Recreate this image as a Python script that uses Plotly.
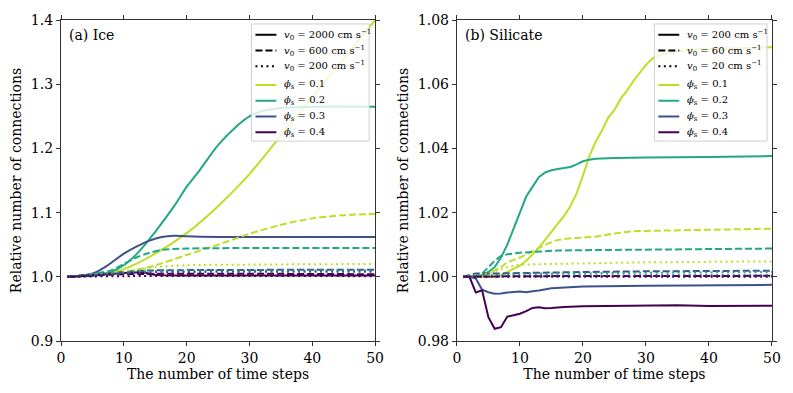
import plotly.graph_objects as go
from plotly.subplots import make_subplots

# --- data ------------------------------------------------------------------
phis = ["0.1", "0.2", "0.3", "0.4"]
colors = ["#bddf26", "#22a884", "#3b528b", "#440154"]

# (a) Ice, one list per phi, for the three launch speeds
ice_fast_x = [[1, 5, 10, 15, 20, 25, 30, 35, 40, 45, 50],
              [1, 5, 8, 10, 12, 15, 18, 20, 22, 25, 28, 30, 32, 35, 40, 50],
              [1, 5, 7, 10, 12, 14, 16, 18, 20, 25, 50],
              [1, 5, 10, 13, 15, 20, 50]]
ice_fast_y = [[1.0, 1.002, 1.012, 1.036, 1.068, 1.11, 1.16, 1.22, 1.28, 1.34, 1.40],
              [1.0, 1.002, 1.008, 1.018, 1.035, 1.07, 1.11, 1.14, 1.165, 1.205,
               1.235, 1.25, 1.258, 1.263, 1.265, 1.265],
              [1.0, 1.005, 1.015, 1.036, 1.047, 1.056, 1.062, 1.064, 1.063, 1.062, 1.062],
              [1.0, 1.002, 1.006, 1.007, 1.003, 1.002, 1.002]]
ice_mid_x = [[1, 10, 15, 20, 25, 30, 35, 40, 45, 50],
             [1, 8, 10, 12, 14, 16, 20, 50],
             [1, 8, 12, 15, 50],
             [1, 10, 50]]
ice_mid_y = [[1.0, 1.007, 1.018, 1.034, 1.05, 1.067, 1.081, 1.091, 1.096, 1.098],
             [1.0, 1.01, 1.02, 1.03, 1.037, 1.042, 1.044, 1.045],
             [1.0, 1.006, 1.009, 1.010, 1.011],
             [1.0, 1.004, 1.004]]
ice_slow_x = [[1, 10, 15, 20, 30, 50],
              [1, 10, 15, 50],
              [1, 10, 15, 50],
              [1, 10, 50]]
ice_slow_y = [[1.0, 1.008, 1.015, 1.018, 1.019, 1.02],
              [1.0, 1.007, 1.009, 1.01],
              [1.0, 1.005, 1.007, 1.008],
              [1.0, 1.001, 1.001]]

# (b) Silicate
sil_fast_x = [[1, 2, 4, 6, 7, 8, 9, 10, 11, 12, 13, 14, 15, 16, 17, 18, 19, 20, 21, 22,
               23, 24, 25, 26, 27, 28, 29, 30, 31, 32, 33, 34, 36, 38, 40, 45, 50],
              [1, 4, 5, 6, 7, 8, 9, 10, 11, 12, 13, 14, 15, 16, 17, 18, 19, 20, 21, 22,
               25, 30, 40, 50],
              [1, 2, 3, 4, 5, 6, 7, 8, 10, 11, 12, 13, 15, 20, 30, 40, 50],
              [1, 2, 3, 4, 5, 6, 7, 8, 9, 10, 11, 12, 13, 14, 15, 17, 20, 30, 35, 40, 45, 50]]
sil_fast_y = [[1.0, 1.0, 1.0, 1.0, 1.0005, 1.0015, 1.0025, 1.0035, 1.005, 1.007, 1.009,
               1.0115, 1.014, 1.0165, 1.019, 1.022, 1.026, 1.0315, 1.0375, 1.042, 1.0455,
               1.0495, 1.052, 1.0555, 1.058, 1.061, 1.0635, 1.066, 1.068, 1.069, 1.0695,
               1.07, 1.0705, 1.071, 1.071, 1.0712, 1.0715],
              [1.0, 1.0005, 1.0015, 1.003, 1.006, 1.010, 1.015, 1.020, 1.025, 1.028,
               1.031, 1.0325, 1.0332, 1.0336, 1.0338, 1.0342, 1.035, 1.036, 1.0365,
               1.0368, 1.037, 1.0372, 1.0373, 1.0376],
              [1.0, 1.0, 0.9995, 0.996, 0.9952, 0.9947, 0.9948, 0.9951, 0.9954, 0.9952,
               0.9955, 0.9957, 0.9964, 0.997, 0.9972, 0.9973, 0.9975],
              [1.0, 1.0, 0.9951, 0.9958, 0.9874, 0.9838, 0.9843, 0.9876, 0.988, 0.9885,
               0.9893, 0.9903, 0.9905, 0.9902, 0.9903, 0.9906, 0.9908, 0.991, 0.9911,
               0.9909, 0.9909, 0.991]]
sil_mid_x = [[1, 4, 5, 6, 7, 8, 10, 12, 14, 16, 18, 20, 22, 25, 28, 30, 35, 40, 45, 50],
             [1, 3, 4, 5, 6, 7, 8, 10, 12, 14, 16, 20, 30, 40, 50],
             [1, 3, 5, 10, 20, 30, 50],
             [1, 10, 50]]
sil_mid_y = [[1.0, 1.0, 1.001, 1.002, 1.003, 1.0045, 1.006, 1.008, 1.010, 1.0115, 1.012,
              1.0122, 1.0125, 1.0135, 1.0142, 1.0143, 1.0145, 1.0147, 1.0149, 1.015],
             [1.0, 1.0, 1.001, 1.003, 1.005, 1.0065, 1.007, 1.0075, 1.0078, 1.008,
              1.0082, 1.0083, 1.0085, 1.0087, 1.0088],
             [1.0, 1.001, 1.001, 1.0012, 1.0015, 1.0017, 1.0019],
             [1.0, 1.0002, 1.0003]]
sil_slow_x = [[1, 5, 8, 10, 15, 20, 30, 50],
              [1, 10, 50],
              [1, 10, 50],
              [1, 50]]
sil_slow_y = [[1.0, 1.001, 1.003, 1.0038, 1.004, 1.0042, 1.0045, 1.0048],
              [1.0, 1.001, 1.0015],
              [1.0, 1.0004, 1.0005],
              [1.0, 1.0]]

ice_v0 = ["2000", "600", "200"]
sil_v0 = ["200", "60", "20"]
dashes = ["solid", "7px,3px", "2px,3.5px"]

FONT = "DejaVu Serif"
W, H = 793, 393
ML, MR, MT, MB = 61, 19, 15, 52


def px(x, y):
    # pixel position -> paper coordinates
    return (x - ML) / (W - ML - MR), (H - MB - y) / (H - MT - MB)


fig = make_subplots(rows=1, cols=2)


def add_panel(col, sets, shape):
    for dash, (xs, ys) in zip(dashes, sets):
        for c, x, y in zip(colors, xs, ys):
            fig.add_trace(go.Scatter(x=x, y=y, mode="lines", showlegend=False,
                                     line=dict(color=c, width=2, dash=dash,
                                               shape=shape, smoothing=0.8)),
                          row=1, col=col)


add_panel(1, [(ice_fast_x, ice_fast_y), (ice_mid_x, ice_mid_y), (ice_slow_x, ice_slow_y)],
          "spline")
add_panel(2, [(sil_fast_x, sil_fast_y), (sil_mid_x, sil_mid_y), (sil_slow_x, sil_slow_y)],
          "linear")

# hand-built legends (matplotlib-like compact rows)
shapes, annotations = [], []
row_y = [30, 46, 62, 81, 97, 113, 129]


def add_legend(box, line_x0, line_x1, v0s):
    x0, y0 = px(box[0], box[1])
    x1, y1 = px(box[2], box[3])
    shapes.append(dict(type="rect", xref="paper", yref="paper", x0=x0, y0=y0, x1=x1, y1=y1,
                       fillcolor="rgba(255,255,255,0.8)", line=dict(color="#d0d0d0", width=1)))
    labels = [f"<i>v</i><sub>0</sub> = {v} cm s<sup>−1</sup>" for v in v0s] + \
             [f"<i>ϕ</i><sub>s</sub> = {p}" for p in phis]
    styles = [("black", d) for d in dashes] + [(c, "solid") for c in colors]
    for yy, lab, (c, d) in zip(row_y, labels, styles):
        a0, b = px(line_x0, yy)
        a1, _ = px(line_x1, yy)
        shapes.append(dict(type="line", xref="paper", yref="paper", x0=a0, x1=a1, y0=b, y1=b,
                           line=dict(color=c, width=2, dash=d)))
        t, _ = px(line_x1 + 6, yy)
        annotations.append(dict(text=lab, x=t, y=b, xref="paper", yref="paper",
                                xanchor="left", yanchor="middle", showarrow=False,
                                font=dict(family=FONT, size=10, color="black")))


add_legend((252, 19, 370, 138), 256, 277, ice_v0)
add_legend((656, 19, 769, 138), 660, 681, sil_v0)

for text, x in [("(a) Ice", 67), ("(b) Silicate", 464)]:
    ax, ay = px(x, 20)
    annotations.append(dict(text=text, x=ax, y=ay, xref="paper", yref="paper",
                            xanchor="left", yanchor="top", showarrow=False,
                            font=dict(family=FONT, size=14, color="black")))

axis_style = dict(showline=True, linecolor="#333", linewidth=1.2, mirror="ticks",
                  ticks="outside", ticklen=4, tickwidth=1, tickcolor="#333",
                  showgrid=False, zeroline=False,
                  tickfont=dict(family=FONT, size=14, color="black"))

fig.update_xaxes(range=[0, 50], tickvals=[0, 10, 20, 30, 40, 50],
                 title=dict(text="The number of time steps",
                            font=dict(family=FONT, size=14, color="black"), standoff=3),
                 **axis_style)
fig.update_yaxes(title=dict(text="Relative number of connections",
                            font=dict(family=FONT, size=14, color="black"), standoff=5),
                 **axis_style)
fig.update_yaxes(range=[0.9, 1.4], tickvals=[0.9, 1.0, 1.1, 1.2, 1.3, 1.4],
                 tickformat=".1f", row=1, col=1)
fig.update_yaxes(range=[0.98, 1.08], tickvals=[0.98, 1.0, 1.02, 1.04, 1.06, 1.08],
                 tickformat=".2f", row=1, col=2)
fig.update_xaxes(domain=[0, px(376, 0)[0]], row=1, col=1)
fig.update_xaxes(domain=[px(458, 0)[0], 1], row=1, col=2)

fig.update_layout(
    width=W, height=H,
    margin=dict(l=ML, r=MR, t=MT, b=MB),
    paper_bgcolor="white", plot_bgcolor="white",
    font=dict(family=FONT, color="black"),
    showlegend=False,
    shapes=shapes,
    annotations=annotations,
)

fig.write_html("out.html", config={"displayModeBar": False},
               post_script="document.body.style.margin='0';")
